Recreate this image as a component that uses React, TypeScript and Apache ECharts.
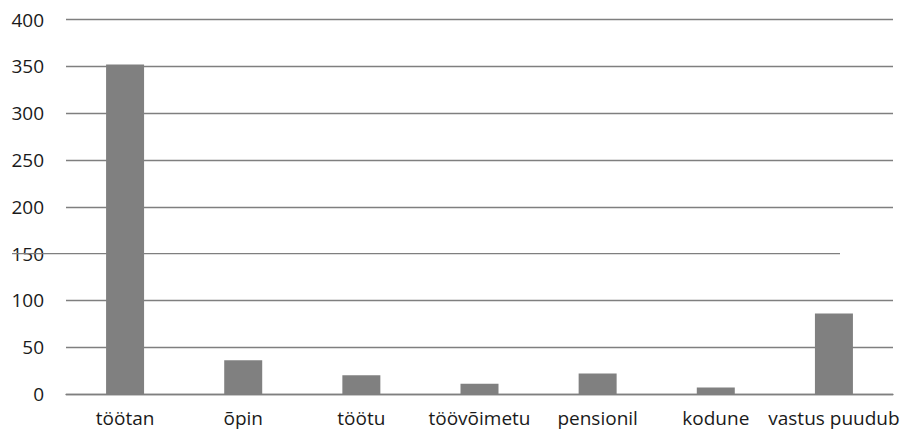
import React, { useEffect, useRef } from "react";
import * as echarts from "echarts";

const categories = ["töötan", "õpin", "töötu", "töövõimetu", "pensionil", "kodune", "vastus puudub"];
const values = [352, 36, 20, 11, 22, 7, 86];
const yMin = 0;
const yMax = 400;
const yInterval = 50;
const shiftedLineValue = 150;

const FONT = "'Open Sans', sans-serif";
const GRID_COLOR = "#7f7f7f";
const TEXT_COLOR = "#1a1a1a";

export default function App() {
  const ref = useRef<HTMLDivElement>(null);
  useEffect(() => {
    if (!ref.current) return;
    const chart = echarts.init(ref.current, null, { renderer: "svg" });
    const tickCount = (yMax - yMin) / yInterval + 1;
    const splitColors: string[] = [];
    for (let i = 0; i < tickCount; i++) {
      splitColors.push(yMin + i * yInterval === shiftedLineValue ? "rgba(0,0,0,0)" : GRID_COLOR);
    }
    const gridLeft = 66;
    const gridRight = 8;
    chart.setOption({
      animation: false,
      grid: {
        left: gridLeft,
        right: gridRight,
        top: 19.5,
        bottom: 36,
        containLabel: false,
        outerBoundsMode: "none",
      },
      xAxis: {
        type: "category",
        data: categories,
        axisLine: { show: true, lineStyle: { color: GRID_COLOR, width: 1.3 } },
        axisTick: { show: false },
        axisLabel: { color: TEXT_COLOR, fontSize: 19, fontFamily: FONT, margin: 14, interval: 0, hideOverlap: false },
      },
      yAxis: {
        type: "value",
        min: yMin,
        max: yMax,
        interval: yInterval,
        axisLine: { show: false },
        axisTick: { show: false },
        axisLabel: { color: TEXT_COLOR, fontSize: 19, fontFamily: FONT, margin: 22 },
        splitLine: { show: true, lineStyle: { color: splitColors, width: 1.3 } },
      },
      series: [
        {
          type: "bar",
          data: values,
          barWidth: 38,
          itemStyle: { color: "#808080" },
          z: 3,
        },
      ],
    });
    const y150 = chart.convertToPixel({ yAxisIndex: 0 }, shiftedLineValue) as number;
    const w = chart.getWidth();
    chart.setOption({
      graphic: [
        {
          type: "line",
          z: 1,
          shape: { x1: gridLeft - 54, y1: y150, x2: w - gridRight - 53, y2: y150 },
          style: { stroke: GRID_COLOR, lineWidth: 1.3 },
        },
      ],
    });
    return () => chart.dispose();
  }, []);
  return (
    <div
      ref={ref}
      style={{ position: "absolute", left: 0, top: 0, width: 901, height: 430, background: "#fff" }}
    />
  );
}
